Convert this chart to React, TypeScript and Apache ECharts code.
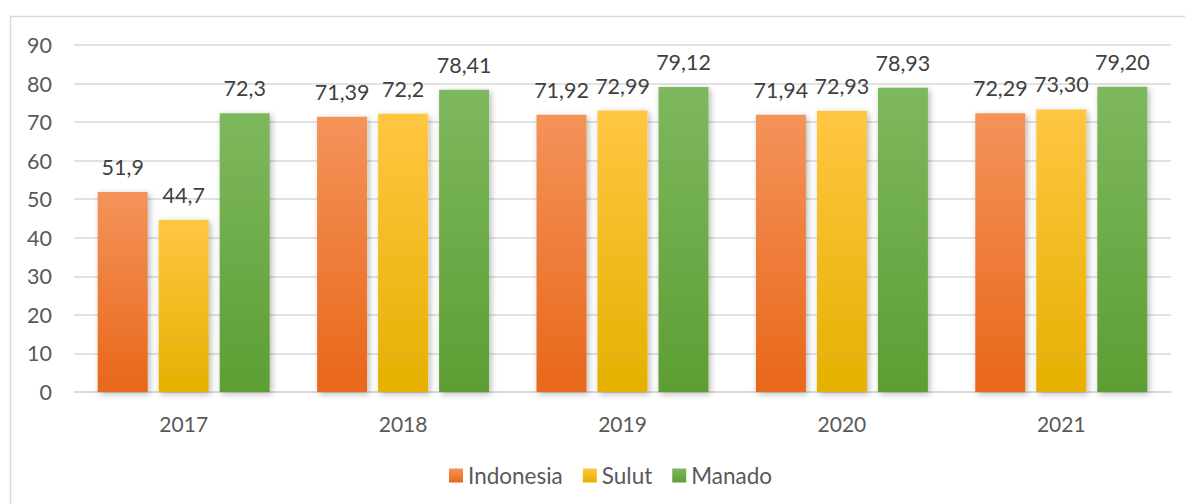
import React, { useEffect, useRef } from "react";
import * as echarts from "echarts";

const categories = ["2017", "2018", "2019", "2020", "2021"];
const indonesia = [51.9, 71.39, 71.92, 71.94, 72.29];
const sulut = [44.7, 72.2, 72.99, 72.93, 73.3];
const manado = [72.3, 78.41, 79.12, 78.93, 79.2];
const indonesiaDecimals = [1, 2, 2, 2, 2];
const sulutDecimals = [1, 1, 2, 2, 2];
const manadoDecimals = [1, 2, 2, 2, 2];
const yTicks = { min: 0, max: 90, interval: 10 };

const FONT = "Lato, 'Open Sans', sans-serif";

function grad(top: string, bottom: string) {
  return new echarts.graphic.LinearGradient(0, 0, 0, 1, [
    { offset: 0, color: top },
    { offset: 1, color: bottom },
  ]);
}

function makeSeries(name: string, data: number[], decimals: number[], top: string, bottom: string) {
  return {
    name,
    type: "bar",
    data,
    barWidth: 50,
    barGap: "22%",
    itemStyle: {
      color: grad(top, bottom),
      shadowBlur: 6,
      shadowColor: "rgba(0,0,0,0.28)",
      shadowOffsetX: 2,
      shadowOffsetY: 2,
    },
    label: {
      show: true,
      position: "top",
      distance: 14,
      fontFamily: FONT,
      fontSize: 21.5,
      color: "#404040",
      formatter: (p: any) => Number(p.value).toFixed(decimals[p.dataIndex]).replace(".", ","),
    },
  };
}

export default function App() {
  const ref = useRef<HTMLDivElement>(null);
  useEffect(() => {
    document.body.style.margin = "0";
    const chart = echarts.init(ref.current!, undefined, { renderer: "svg" });
    chart.setOption({
      animation: false,
      backgroundColor: "#ffffff",
      grid: { left: 74, right: 14, top: 45, bottom: 112, containLabel: false },
      graphic: [
        {
          type: "rect",
          shape: { x: 10.5, y: 16.5, width: 1300, height: 700 },
          style: { fill: "none", stroke: "#D9D9D9", lineWidth: 1.5 },
          silent: true,
          z: -10,
        },
      ],
      legend: {
        left: 444,
        top: 459,
        itemWidth: 14,
        itemHeight: 14,
        itemGap: 20,
        icon: "rect",
        textStyle: { fontFamily: FONT, fontSize: 22.5, color: "#595959" },
        data: ["Indonesia", "Sulut", "Manado"],
      },
      xAxis: {
        type: "category",
        data: categories,
        axisLine: { show: true, lineStyle: { color: "#D9D9D9", width: 1.5 } },
        axisTick: { show: false },
        axisLabel: { fontFamily: FONT, fontSize: 21, color: "#595959", margin: 21 },
        splitLine: { show: false },
      },
      yAxis: {
        type: "value",
        min: yTicks.min,
        max: yTicks.max,
        interval: yTicks.interval,
        axisLine: { show: false },
        axisTick: { show: false },
        axisLabel: { fontFamily: FONT, fontSize: 21.5, color: "#595959", margin: 22 },
        splitLine: { lineStyle: { color: "#D9D9D9", width: 1.5 } },
      },
      series: [
        makeSeries("Indonesia", indonesia, indonesiaDecimals, "#F4935A", "#E8671A"),
        makeSeries("Sulut", sulut, sulutDecimals, "#FFC642", "#E6B000"),
        makeSeries("Manado", manado, manadoDecimals, "#7EB85E", "#5D9E33"),
      ],
    });
    return () => chart.dispose();
  }, []);
  return <div ref={ref} style={{ width: 1185, height: 504 }} />;
}
